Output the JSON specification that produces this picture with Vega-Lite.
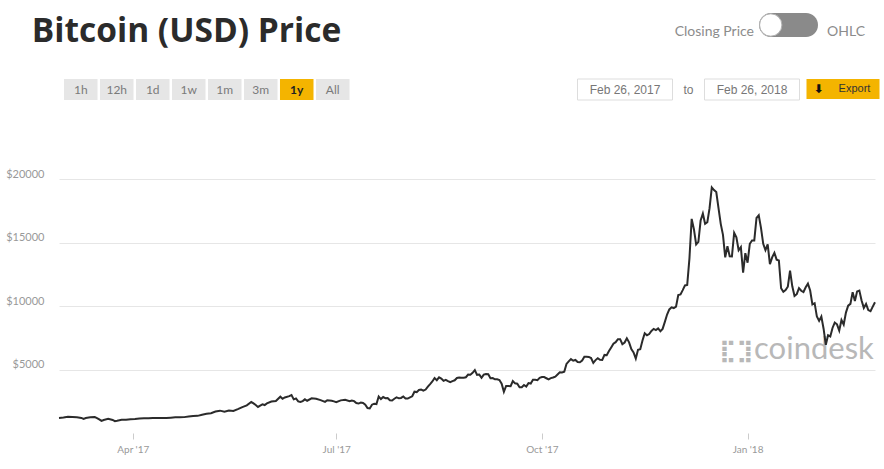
{
  "$schema": "https://vega.github.io/schema/vega-lite/v6.json",
  "background": "white",
  "autosize": {"type": "pad"},
  "padding": {"left": 5, "top": 11, "right": 6, "bottom": 8},
  "config": {
    "view": {"stroke": null},
    "axisX": {"domain": false, "grid": false, "tickColor": "#cccccc", "tickSize": 6, "tickWidth": 1, "labelColor": "#999999", "labelFont": "Lato", "labelFontSize": 10, "labelPadding": 5},
    "axisY": {"domain": false, "ticks": false, "grid": true, "gridColor": "#e6e6e6", "gridWidth": 1, "labelColor": "#999999", "labelFont": "Lato", "labelFontSize": 11, "labelPadding": 15, "labelBaseline": "bottom"}
  },
  "spacing": 67,
  "vconcat": [
    {
      "spacing": 27,
      "vconcat": [
        {
          "bounds": "flush",
          "spacing": 5,
          "hconcat": [
            {
              "width": 255, "height": 38,
              "data": {"values": [{"label": "Bitcoin (USD) Price"}]},
              "mark": {"type": "text", "font": "Open Sans", "fontSize": 33.5, "fontWeight": "bold", "color": "#2b2b2b"},
              "encoding": {"text": {"field": "label"}}
            },
            {
              "width": 435, "height": 38,
              "data": {"values": [{"label": "Closing Price"}]},
              "mark": {"type": "text", "font": "Lato", "fontSize": 14, "color": "#8c8c8c", "align": "right"},
              "encoding": {
                "x": {"field": "label", "type": "nominal", "axis": null, "scale": {"type": "point", "padding": 0, "align": 1}},
                "text": {"field": "label"}
              }
            },
            {
              "width": 59, "height": 24,
              "data": {"values": [{"state": "Closing Price"}]},
              "layer": [
                {"mark": {"type": "rect", "color": "#8a8a8a", "cornerRadius": 12}, "encoding": {}},
                {
                  "mark": {"type": "point", "filled": true, "color": "#ffffff", "stroke": "#b0b0b0", "strokeWidth": 1, "size": 500, "opacity": 1},
                  "encoding": {"x": {"field": "state", "type": "nominal", "axis": null, "scale": {"type": "point", "domain": ["Closing Price", "OHLC"], "padding": 0.33}}}
                }
              ]
            },
            {
              "width": 46, "height": 38,
              "data": {"values": [{"label": "OHLC"}]},
              "mark": {"type": "text", "font": "Lato", "fontSize": 14, "color": "#8c8c8c"},
              "encoding": {"text": {"field": "label"}}
            }
          ]
        },
        {
          "spacing": 226.5,
          "hconcat": [
            {
              "width": 290.5, "height": 21,
              "data": {"values": [
                {"label": "1h", "active": false}, {"label": "12h", "active": false}, {"label": "1d", "active": false},
                {"label": "1w", "active": false}, {"label": "1m", "active": false}, {"label": "3m", "active": false},
                {"label": "1y", "active": true}, {"label": "All", "active": false}
              ]},
              "encoding": {"x": {"field": "label", "type": "nominal", "axis": null, "scale": {"domain": ["1h", "12h", "1d", "1w", "1m", "3m", "1y", "All"], "paddingInner": 0.069, "paddingOuter": 0.0694, "align": 1}}},
              "layer": [
                {"mark": {"type": "rect"}, "encoding": {"color": {"condition": {"test": "datum.active", "value": "#f4b400"}, "value": "#e6e6e6"}}},
                {"transform": [{"filter": "!datum.active"}], "mark": {"type": "text", "font": "Lato", "fontSize": 12, "color": "#7a7a7a"}, "encoding": {"text": {"field": "label"}}},
                {"transform": [{"filter": "datum.active"}], "mark": {"type": "text", "font": "Lato", "fontSize": 12, "fontWeight": "bold", "color": "#222222"}, "encoding": {"text": {"field": "label"}}}
              ]
            },
            {
              "spacing": 6,
              "hconcat": [
                {
                  "width": 95, "height": 21,
                  "data": {"values": [{"label": "Feb 26, 2017"}]},
                  "layer": [
                    {"mark": {"type": "rect", "fill": "#ffffff", "stroke": "#dddddd", "strokeWidth": 1}, "encoding": {}},
                    {"mark": {"type": "text", "font": "Liberation Sans", "fontSize": 12, "color": "#777777"}, "encoding": {"text": {"field": "label"}}}
                  ]
                },
                {
                  "width": 18, "height": 21,
                  "data": {"values": [{"label": "to"}]},
                  "mark": {"type": "text", "font": "Liberation Sans", "fontSize": 12, "color": "#777777"},
                  "encoding": {"text": {"field": "label"}}
                },
                {
                  "width": 95, "height": 21,
                  "data": {"values": [{"label": "Feb 26, 2018"}]},
                  "layer": [
                    {"mark": {"type": "rect", "fill": "#ffffff", "stroke": "#dddddd", "strokeWidth": 1}, "encoding": {}},
                    {"mark": {"type": "text", "font": "Liberation Sans", "fontSize": 12, "color": "#777777"}, "encoding": {"text": {"field": "label"}}}
                  ]
                },
                {
                  "width": 73, "height": 20,
                  "encoding": {"x": {"field": "part", "type": "nominal", "axis": null, "scale": {"type": "point", "domain": ["icon", "text"], "padding": 0.514, "align": 0.324}}},
                  "layer": [
                    {"data": {"values": [{"label": "Export"}]}, "mark": {"type": "rect", "color": "#f4b400"}, "encoding": {"x": null}},
                    {"data": {"values": [{"part": "icon", "label": "⬇"}]}, "mark": {"type": "text", "font": "DejaVu Sans", "fontSize": 12, "fontWeight": "bold", "color": "#111111"}, "encoding": {"text": {"field": "label"}}},
                    {"data": {"values": [{"part": "text", "label": "Export"}]}, "mark": {"type": "text", "font": "Liberation Sans", "fontSize": 11, "color": "#333333"}, "encoding": {"text": {"field": "label"}}}
                  ]
                }
              ]
            }
          ]
        }
      ]
    },
    {
      "width": 816, "height": 254,
      "layer": [
        {
          "data": {"values": [{"label": "coindesk"}]},
          "mark": {"type": "text", "font": "Lato", "fontSize": 31, "color": "#b8b8b8", "align": "left", "baseline": "alphabetic"},
          "encoding": {
            "x": {"datum": {"year": 2018, "month": 1, "date": 3, "hours": 22, "utc": true}, "type": "temporal", "scale": {"type": "utc"},
              "axis": {"title": null, "format": "%b '%y", "values": [
                {"year": 2017, "month": 4, "date": 1, "utc": true}, {"year": 2017, "month": 7, "date": 1, "utc": true},
                {"year": 2017, "month": 10, "date": 1, "utc": true}, {"year": 2018, "month": 1, "date": 1, "utc": true}]}},
            "y": {"datum": 5865, "type": "quantitative", "axis": {"title": null, "format": "$d", "values": [5000, 10000, 15000, 20000]}},
            "text": {"field": "label"}
          }
        },
        {
          "data": {"values": [{"label": "⣏⣹"}]},
          "mark": {"type": "text", "font": "DejaVu Sans", "fontSize": 22, "fontWeight": "bold", "color": "#b8b8b8", "align": "center", "baseline": "middle"},
          "encoding": {
            "x": {"datum": {"year": 2017, "month": 12, "date": 27, "utc": true}, "type": "temporal", "scale": {"type": "utc"},
              "axis": {"title": null, "format": "%b '%y", "values": [
                {"year": 2017, "month": 4, "date": 1, "utc": true}, {"year": 2017, "month": 7, "date": 1, "utc": true},
                {"year": 2017, "month": 10, "date": 1, "utc": true}, {"year": 2018, "month": 1, "date": 1, "utc": true}]}},
            "y": {"datum": 6490, "type": "quantitative", "axis": {"title": null, "format": "$d", "values": [5000, 10000, 15000, 20000]}},
            "text": {"field": "label"}
          }
        },
        {
          "data": {"values": [
            {"date": "2017-02-27", "price": 1190}, {"date": "2017-03-01", "price": 1222}, {"date": "2017-03-03", "price": 1285},
            {"date": "2017-03-05", "price": 1265}, {"date": "2017-03-07", "price": 1235}, {"date": "2017-03-09", "price": 1190},
            {"date": "2017-03-10", "price": 1110}, {"date": "2017-03-11", "price": 1175}, {"date": "2017-03-13", "price": 1235},
            {"date": "2017-03-15", "price": 1255}, {"date": "2017-03-16", "price": 1175}, {"date": "2017-03-17", "price": 1070},
            {"date": "2017-03-18", "price": 950}, {"date": "2017-03-19", "price": 1020}, {"date": "2017-03-21", "price": 1115},
            {"date": "2017-03-23", "price": 1030}, {"date": "2017-03-24", "price": 935}, {"date": "2017-03-25", "price": 965},
            {"date": "2017-03-27", "price": 1045}, {"date": "2017-03-29", "price": 1040}, {"date": "2017-03-31", "price": 1080},
            {"date": "2017-04-02", "price": 1095}, {"date": "2017-04-04", "price": 1140}, {"date": "2017-04-06", "price": 1170},
            {"date": "2017-04-08", "price": 1160}, {"date": "2017-04-10", "price": 1190}, {"date": "2017-04-12", "price": 1190},
            {"date": "2017-04-14", "price": 1175}, {"date": "2017-04-16", "price": 1180}, {"date": "2017-04-18", "price": 1205},
            {"date": "2017-04-20", "price": 1235}, {"date": "2017-04-22", "price": 1235}, {"date": "2017-04-24", "price": 1250},
            {"date": "2017-04-26", "price": 1290}, {"date": "2017-04-28", "price": 1330}, {"date": "2017-04-30", "price": 1350},
            {"date": "2017-05-02", "price": 1440}, {"date": "2017-05-04", "price": 1510}, {"date": "2017-05-06", "price": 1560},
            {"date": "2017-05-08", "price": 1690}, {"date": "2017-05-10", "price": 1760}, {"date": "2017-05-12", "price": 1680},
            {"date": "2017-05-14", "price": 1775}, {"date": "2017-05-16", "price": 1730}, {"date": "2017-05-18", "price": 1880},
            {"date": "2017-05-20", "price": 2040}, {"date": "2017-05-22", "price": 2180}, {"date": "2017-05-24", "price": 2450},
            {"date": "2017-05-25", "price": 2330}, {"date": "2017-05-26", "price": 2200}, {"date": "2017-05-27", "price": 2050},
            {"date": "2017-05-28", "price": 2160}, {"date": "2017-05-29", "price": 2260}, {"date": "2017-05-30", "price": 2200},
            {"date": "2017-05-31", "price": 2330}, {"date": "2017-06-02", "price": 2480}, {"date": "2017-06-04", "price": 2520},
            {"date": "2017-06-06", "price": 2860}, {"date": "2017-06-07", "price": 2690}, {"date": "2017-06-08", "price": 2800},
            {"date": "2017-06-10", "price": 2900}, {"date": "2017-06-11", "price": 2990}, {"date": "2017-06-12", "price": 2650},
            {"date": "2017-06-13", "price": 2720}, {"date": "2017-06-14", "price": 2490}, {"date": "2017-06-15", "price": 2440},
            {"date": "2017-06-16", "price": 2510}, {"date": "2017-06-17", "price": 2650}, {"date": "2017-06-18", "price": 2540},
            {"date": "2017-06-20", "price": 2730}, {"date": "2017-06-22", "price": 2690}, {"date": "2017-06-24", "price": 2590},
            {"date": "2017-06-26", "price": 2450}, {"date": "2017-06-27", "price": 2580}, {"date": "2017-06-29", "price": 2540},
            {"date": "2017-06-30", "price": 2490}, {"date": "2017-07-01", "price": 2430}, {"date": "2017-07-03", "price": 2570},
            {"date": "2017-07-05", "price": 2610}, {"date": "2017-07-07", "price": 2500}, {"date": "2017-07-08", "price": 2560},
            {"date": "2017-07-09", "price": 2510}, {"date": "2017-07-10", "price": 2360}, {"date": "2017-07-11", "price": 2320},
            {"date": "2017-07-12", "price": 2400}, {"date": "2017-07-13", "price": 2360}, {"date": "2017-07-14", "price": 2230},
            {"date": "2017-07-15", "price": 1960}, {"date": "2017-07-16", "price": 1930}, {"date": "2017-07-17", "price": 2230},
            {"date": "2017-07-18", "price": 2310}, {"date": "2017-07-19", "price": 2280}, {"date": "2017-07-20", "price": 2870},
            {"date": "2017-07-21", "price": 2670}, {"date": "2017-07-22", "price": 2830}, {"date": "2017-07-23", "price": 2740},
            {"date": "2017-07-24", "price": 2760}, {"date": "2017-07-25", "price": 2580}, {"date": "2017-07-26", "price": 2560},
            {"date": "2017-07-27", "price": 2700}, {"date": "2017-07-28", "price": 2800}, {"date": "2017-07-29", "price": 2730},
            {"date": "2017-07-30", "price": 2760}, {"date": "2017-07-31", "price": 2880}, {"date": "2017-08-01", "price": 2720},
            {"date": "2017-08-02", "price": 2710}, {"date": "2017-08-03", "price": 2800}, {"date": "2017-08-04", "price": 2890},
            {"date": "2017-08-05", "price": 3250}, {"date": "2017-08-06", "price": 3220}, {"date": "2017-08-07", "price": 3390},
            {"date": "2017-08-08", "price": 3420}, {"date": "2017-08-09", "price": 3340}, {"date": "2017-08-10", "price": 3420},
            {"date": "2017-08-11", "price": 3650}, {"date": "2017-08-12", "price": 3850}, {"date": "2017-08-13", "price": 4060},
            {"date": "2017-08-14", "price": 4330}, {"date": "2017-08-15", "price": 4160}, {"date": "2017-08-16", "price": 4380},
            {"date": "2017-08-17", "price": 4280}, {"date": "2017-08-18", "price": 4110}, {"date": "2017-08-19", "price": 4190},
            {"date": "2017-08-20", "price": 4090}, {"date": "2017-08-21", "price": 4000}, {"date": "2017-08-22", "price": 4090},
            {"date": "2017-08-23", "price": 4150}, {"date": "2017-08-24", "price": 4330}, {"date": "2017-08-25", "price": 4360},
            {"date": "2017-08-26", "price": 4350}, {"date": "2017-08-27", "price": 4350}, {"date": "2017-08-28", "price": 4390},
            {"date": "2017-08-29", "price": 4600}, {"date": "2017-08-30", "price": 4590}, {"date": "2017-08-31", "price": 4740},
            {"date": "2017-09-01", "price": 4950}, {"date": "2017-09-02", "price": 4580}, {"date": "2017-09-03", "price": 4600},
            {"date": "2017-09-04", "price": 4350}, {"date": "2017-09-05", "price": 4600}, {"date": "2017-09-06", "price": 4650},
            {"date": "2017-09-07", "price": 4630}, {"date": "2017-09-08", "price": 4320}, {"date": "2017-09-09", "price": 4330},
            {"date": "2017-09-10", "price": 4230}, {"date": "2017-09-11", "price": 4230}, {"date": "2017-09-12", "price": 4170},
            {"date": "2017-09-13", "price": 3880}, {"date": "2017-09-14", "price": 3240}, {"date": "2017-09-15", "price": 3700},
            {"date": "2017-09-16", "price": 3700}, {"date": "2017-09-17", "price": 3690}, {"date": "2017-09-18", "price": 4090},
            {"date": "2017-09-19", "price": 3910}, {"date": "2017-09-20", "price": 3880}, {"date": "2017-09-21", "price": 3600},
            {"date": "2017-09-22", "price": 3610}, {"date": "2017-09-23", "price": 3780}, {"date": "2017-09-24", "price": 3660},
            {"date": "2017-09-25", "price": 3930}, {"date": "2017-09-26", "price": 3890}, {"date": "2017-09-27", "price": 4200},
            {"date": "2017-09-28", "price": 4190}, {"date": "2017-09-29", "price": 4160}, {"date": "2017-09-30", "price": 4340},
            {"date": "2017-10-01", "price": 4400}, {"date": "2017-10-02", "price": 4400}, {"date": "2017-10-03", "price": 4310},
            {"date": "2017-10-04", "price": 4220}, {"date": "2017-10-05", "price": 4320}, {"date": "2017-10-06", "price": 4370},
            {"date": "2017-10-07", "price": 4440}, {"date": "2017-10-08", "price": 4610}, {"date": "2017-10-09", "price": 4780},
            {"date": "2017-10-10", "price": 4760}, {"date": "2017-10-11", "price": 4830}, {"date": "2017-10-12", "price": 5440},
            {"date": "2017-10-13", "price": 5640}, {"date": "2017-10-14", "price": 5820}, {"date": "2017-10-15", "price": 5690},
            {"date": "2017-10-16", "price": 5750}, {"date": "2017-10-17", "price": 5590}, {"date": "2017-10-18", "price": 5570},
            {"date": "2017-10-19", "price": 5700}, {"date": "2017-10-20", "price": 6000}, {"date": "2017-10-21", "price": 6010},
            {"date": "2017-10-22", "price": 5990}, {"date": "2017-10-23", "price": 5900}, {"date": "2017-10-24", "price": 5520},
            {"date": "2017-10-25", "price": 5740}, {"date": "2017-10-26", "price": 5890}, {"date": "2017-10-27", "price": 5770},
            {"date": "2017-10-28", "price": 5750}, {"date": "2017-10-29", "price": 6150}, {"date": "2017-10-30", "price": 6130},
            {"date": "2017-10-31", "price": 6450}, {"date": "2017-11-01", "price": 6740}, {"date": "2017-11-02", "price": 7030},
            {"date": "2017-11-03", "price": 7150}, {"date": "2017-11-04", "price": 7390}, {"date": "2017-11-05", "price": 7390},
            {"date": "2017-11-06", "price": 6990}, {"date": "2017-11-07", "price": 7120}, {"date": "2017-11-08", "price": 7460},
            {"date": "2017-11-09", "price": 7140}, {"date": "2017-11-10", "price": 6600}, {"date": "2017-11-11", "price": 6340},
            {"date": "2017-11-12", "price": 5860}, {"date": "2017-11-13", "price": 6550}, {"date": "2017-11-14", "price": 6600},
            {"date": "2017-11-15", "price": 7280}, {"date": "2017-11-16", "price": 7850}, {"date": "2017-11-17", "price": 7700},
            {"date": "2017-11-18", "price": 7790}, {"date": "2017-11-19", "price": 8040}, {"date": "2017-11-20", "price": 8200},
            {"date": "2017-11-21", "price": 8100}, {"date": "2017-11-22", "price": 8230}, {"date": "2017-11-23", "price": 8020},
            {"date": "2017-11-24", "price": 8200}, {"date": "2017-11-25", "price": 8750}, {"date": "2017-11-26", "price": 9330},
            {"date": "2017-11-27", "price": 9730}, {"date": "2017-11-28", "price": 9900}, {"date": "2017-11-29", "price": 9840},
            {"date": "2017-11-30", "price": 9950}, {"date": "2017-12-01", "price": 10860}, {"date": "2017-12-02", "price": 10910},
            {"date": "2017-12-03", "price": 11250}, {"date": "2017-12-04", "price": 11620}, {"date": "2017-12-05", "price": 11660},
            {"date": "2017-12-06", "price": 13750}, {"date": "2017-12-07", "price": 16860}, {"date": "2017-12-08", "price": 16050},
            {"date": "2017-12-09", "price": 14850}, {"date": "2017-12-10", "price": 15050}, {"date": "2017-12-11", "price": 16730},
            {"date": "2017-12-12", "price": 17280}, {"date": "2017-12-13", "price": 16470}, {"date": "2017-12-14", "price": 16600},
            {"date": "2017-12-15", "price": 17700}, {"date": "2017-12-16", "price": 19340}, {"date": "2017-12-17", "price": 19130},
            {"date": "2017-12-18", "price": 18970}, {"date": "2017-12-19", "price": 17700}, {"date": "2017-12-20", "price": 16470},
            {"date": "2017-12-21", "price": 15600}, {"date": "2017-12-22", "price": 13830}, {"date": "2017-12-23", "price": 14700},
            {"date": "2017-12-24", "price": 13920}, {"date": "2017-12-25", "price": 13900}, {"date": "2017-12-26", "price": 15760},
            {"date": "2017-12-27", "price": 15400}, {"date": "2017-12-28", "price": 14390}, {"date": "2017-12-29", "price": 14640},
            {"date": "2017-12-30", "price": 12620}, {"date": "2017-12-31", "price": 14160}, {"date": "2018-01-01", "price": 13410},
            {"date": "2018-01-02", "price": 14900}, {"date": "2018-01-03", "price": 15160}, {"date": "2018-01-04", "price": 15160},
            {"date": "2018-01-05", "price": 16930}, {"date": "2018-01-06", "price": 17140}, {"date": "2018-01-07", "price": 16150},
            {"date": "2018-01-08", "price": 14900}, {"date": "2018-01-09", "price": 14400}, {"date": "2018-01-10", "price": 14850},
            {"date": "2018-01-11", "price": 13290}, {"date": "2018-01-12", "price": 13830}, {"date": "2018-01-13", "price": 14190},
            {"date": "2018-01-14", "price": 13650}, {"date": "2018-01-15", "price": 13580}, {"date": "2018-01-16", "price": 11400},
            {"date": "2018-01-17", "price": 11120}, {"date": "2018-01-18", "price": 11250}, {"date": "2018-01-19", "price": 11520},
            {"date": "2018-01-20", "price": 12780}, {"date": "2018-01-21", "price": 11550}, {"date": "2018-01-22", "price": 10790},
            {"date": "2018-01-23", "price": 10930}, {"date": "2018-01-24", "price": 11410}, {"date": "2018-01-25", "price": 11200},
            {"date": "2018-01-26", "price": 11100}, {"date": "2018-01-27", "price": 11470}, {"date": "2018-01-28", "price": 11760},
            {"date": "2018-01-29", "price": 11220}, {"date": "2018-01-30", "price": 10120}, {"date": "2018-01-31", "price": 10220},
            {"date": "2018-02-01", "price": 9170}, {"date": "2018-02-02", "price": 8830}, {"date": "2018-02-03", "price": 9170},
            {"date": "2018-02-04", "price": 8210}, {"date": "2018-02-05", "price": 6940}, {"date": "2018-02-06", "price": 7700},
            {"date": "2018-02-07", "price": 7600}, {"date": "2018-02-08", "price": 8270}, {"date": "2018-02-09", "price": 8690},
            {"date": "2018-02-10", "price": 8560}, {"date": "2018-02-11", "price": 8070}, {"date": "2018-02-12", "price": 8900},
            {"date": "2018-02-13", "price": 8540}, {"date": "2018-02-14", "price": 9480}, {"date": "2018-02-15", "price": 10030},
            {"date": "2018-02-16", "price": 10170}, {"date": "2018-02-17", "price": 11090}, {"date": "2018-02-18", "price": 10400},
            {"date": "2018-02-19", "price": 11150}, {"date": "2018-02-20", "price": 11220}, {"date": "2018-02-21", "price": 10440},
            {"date": "2018-02-22", "price": 9850}, {"date": "2018-02-23", "price": 10160}, {"date": "2018-02-24", "price": 9680},
            {"date": "2018-02-25", "price": 9590}, {"date": "2018-02-26", "price": 9950}, {"date": "2018-02-27", "price": 10300}
          ]},
          "mark": {"type": "line", "color": "#2b2b2b", "strokeWidth": 2},
          "encoding": {
            "x": {
              "field": "date", "type": "temporal",
              "scale": {"type": "utc", "nice": false},
              "axis": {"title": null, "format": "%b '%y", "values": [
                {"year": 2017, "month": 4, "date": 1, "utc": true}, {"year": 2017, "month": 7, "date": 1, "utc": true},
                {"year": 2017, "month": 10, "date": 1, "utc": true}, {"year": 2018, "month": 1, "date": 1, "utc": true}]}
            },
            "y": {
              "field": "price", "type": "quantitative",
              "scale": {"domain": [0, 20000], "nice": false},
              "axis": {"title": null, "format": "$d", "values": [5000, 10000, 15000, 20000]}
            }
          }
        }
      ]
    }
  ]
}
